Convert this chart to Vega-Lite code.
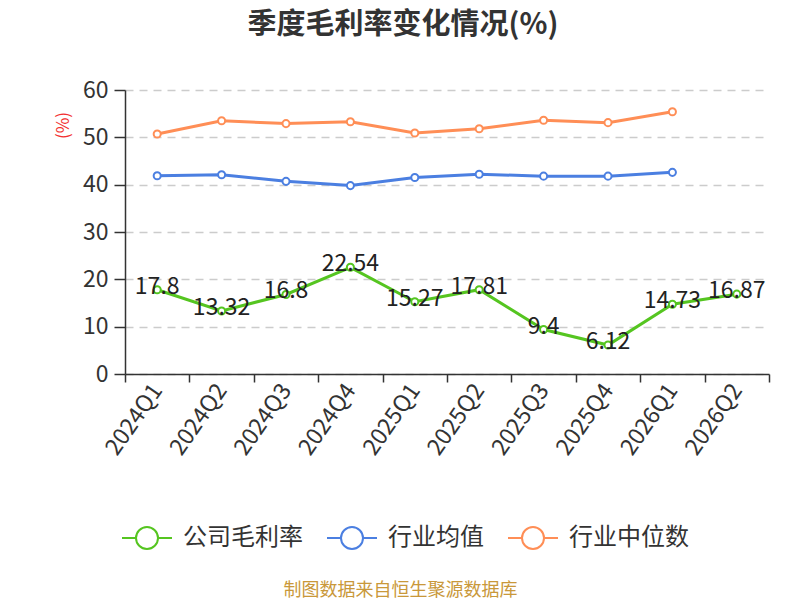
{
  "$schema": "https://vega.github.io/schema/vega-lite/v6.json",
  "width": 644,
  "height": 284,
  "autosize": "none",
  "padding": {"left": 125, "top": 90, "right": 31, "bottom": 226},
  "background": "white",
  "title": {
    "text": "季度毛利率变化情况(%)",
    "fontSize": 29,
    "fontWeight": "bold",
    "color": "#333333",
    "anchor": "middle",
    "dx": -44,
    "baseline": "bottom",
    "offset": 10
  },
  "config": {
    "font": "Noto Sans CJK SC",
    "view": {"stroke": null}
  },
  "data": {
    "values": [
      {"quarter": "2024Q1", "series": "公司毛利率", "value": 17.8},
      {"quarter": "2024Q2", "series": "公司毛利率", "value": 13.32},
      {"quarter": "2024Q3", "series": "公司毛利率", "value": 16.8},
      {"quarter": "2024Q4", "series": "公司毛利率", "value": 22.54},
      {"quarter": "2025Q1", "series": "公司毛利率", "value": 15.27},
      {"quarter": "2025Q2", "series": "公司毛利率", "value": 17.81},
      {"quarter": "2025Q3", "series": "公司毛利率", "value": 9.4},
      {"quarter": "2025Q4", "series": "公司毛利率", "value": 6.12},
      {"quarter": "2026Q1", "series": "公司毛利率", "value": 14.73},
      {"quarter": "2026Q2", "series": "公司毛利率", "value": 16.87},
      {"quarter": "2024Q1", "series": "行业均值", "value": 41.9},
      {"quarter": "2024Q2", "series": "行业均值", "value": 42.1},
      {"quarter": "2024Q3", "series": "行业均值", "value": 40.7},
      {"quarter": "2024Q4", "series": "行业均值", "value": 39.8},
      {"quarter": "2025Q1", "series": "行业均值", "value": 41.5},
      {"quarter": "2025Q2", "series": "行业均值", "value": 42.2},
      {"quarter": "2025Q3", "series": "行业均值", "value": 41.8},
      {"quarter": "2025Q4", "series": "行业均值", "value": 41.8},
      {"quarter": "2026Q1", "series": "行业均值", "value": 42.6},
      {"quarter": "2024Q1", "series": "行业中位数", "value": 50.7},
      {"quarter": "2024Q2", "series": "行业中位数", "value": 53.5},
      {"quarter": "2024Q3", "series": "行业中位数", "value": 52.9},
      {"quarter": "2024Q4", "series": "行业中位数", "value": 53.3},
      {"quarter": "2025Q1", "series": "行业中位数", "value": 50.9},
      {"quarter": "2025Q2", "series": "行业中位数", "value": 51.8},
      {"quarter": "2025Q3", "series": "行业中位数", "value": 53.6},
      {"quarter": "2025Q4", "series": "行业中位数", "value": 53.1},
      {"quarter": "2026Q1", "series": "行业中位数", "value": 55.4}
    ]
  },
  "encoding": {
    "x": {
      "field": "quarter",
      "type": "nominal",
      "sort": null,
      "scale": {"type": "band", "paddingInner": 0, "paddingOuter": 0},
      "axis": {
        "title": "制图数据来自恒生聚源数据库",
        "titleFontSize": 18,
        "titleFontWeight": "normal",
        "titleColor": "#c9983a",
        "titleX": 275,
        "titleY": 216,
        "titleAlign": "center",
        "titleBaseline": "middle",
        "tickBand": "extent",
        "domainColor": "#333333",
        "domainWidth": 1.5,
        "tickColor": "#333333",
        "tickWidth": 1.5,
        "tickSize": 8,
        "labelAngle": -55,
        "labelAlign": "right",
        "labelBaseline": "middle",
        "labelPadding": 4,
        "labelFontSize": 23,
        "labelColor": "#333333",
        "grid": false
      }
    },
    "y": {
      "field": "value",
      "type": "quantitative",
      "scale": {"domain": [0, 60], "nice": false},
      "axis": {
        "title": "(%)",
        "titleColor": "#f23030",
        "titleFontSize": 17,
        "titleFontWeight": "normal",
        "titleX": -62,
        "titleY": 35,
        "titleAngle": -90,
        "titleAlign": "center",
        "titleBaseline": "middle",
        "values": [0, 10, 20, 30, 40, 50, 60],
        "domainColor": "#333333",
        "domainWidth": 1.5,
        "tickColor": "#333333",
        "tickWidth": 1.5,
        "tickSize": 11,
        "labelPadding": 6,
        "labelFontSize": 23,
        "labelColor": "#333333",
        "gridColor": "#cccccc",
        "gridDash": [8, 6],
        "gridWidth": 1.5
      }
    }
  },
  "layer": [
    {
      "mark": {
        "type": "line",
        "strokeWidth": 3,
        "point": {"filled": false, "fill": "white", "size": 50, "strokeWidth": 2}
      },
      "encoding": {
        "color": {
          "field": "series",
          "type": "nominal",
          "scale": {
            "domain": ["公司毛利率", "行业均值", "行业中位数"],
            "range": ["#55c520", "#4b7fe1", "#ff8e56"]
          },
          "legend": {
            "title": null,
            "orient": "none",
            "direction": "horizontal",
            "legendX": -4,
            "legendY": 422,
            "symbolType": "M-1,0L-0.44,0M0.44,0L1,0M-0.44,0A0.44,0.44 0 1,0 0.44,0A0.44,0.44 0 1,0 -0.44,0Z",
            "symbolSize": 2500,
            "symbolStrokeWidth": 2,
            "symbolFillColor": "white",
            "labelFontSize": 24,
            "labelColor": "#333333",
            "labelOffset": 10,
            "columnPadding": 20
          }
        }
      }
    },
    {
      "transform": [{"filter": "datum.series === '公司毛利率'"}],
      "mark": {"type": "text", "fontSize": 23, "color": "#222222", "baseline": "middle", "dy": -3},
      "encoding": {
        "text": {"field": "value", "type": "quantitative"}
      }
    }
  ]
}
